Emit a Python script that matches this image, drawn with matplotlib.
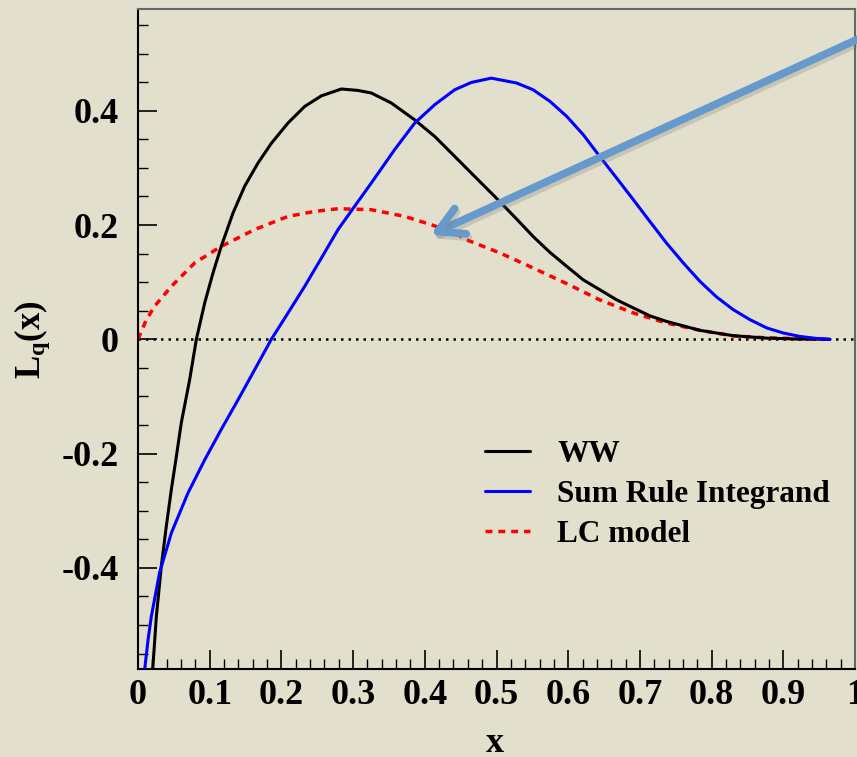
import matplotlib
matplotlib.use("Agg")
import matplotlib.pyplot as plt
import matplotlib.patheffects as pe
from matplotlib.patches import FancyArrowPatch
from matplotlib.ticker import MultipleLocator, FixedLocator

# ---- data ----
ww_x = [0.0205, 0.0256, 0.0325, 0.0395, 0.0465, 0.0535, 0.0604, 0.072, 0.0814, 0.093,
        0.1046, 0.1162, 0.1325, 0.1488, 0.1674, 0.186, 0.2092, 0.2325, 0.2557, 0.2836,
        0.3068, 0.3254, 0.3533, 0.3859, 0.4138, 0.4417, 0.4695, 0.4998, 0.528, 0.551,
        0.5746, 0.598, 0.621, 0.644, 0.6676, 0.691, 0.714, 0.737, 0.784, 0.830,
        0.877, 0.92, 0.965]
ww_y = [-0.578, -0.485, -0.397, -0.327, -0.263, -0.205, -0.146, -0.071, 0.0, 0.0635,
        0.116, 0.163, 0.221, 0.268, 0.3085, 0.343, 0.3785, 0.4075, 0.426, 0.438,
        0.4355, 0.431, 0.4135, 0.384, 0.355, 0.320, 0.285, 0.247, 0.2105, 0.180,
        0.152, 0.1276, 0.104, 0.0868, 0.069, 0.0548, 0.041, 0.0313, 0.0156, 0.0063,
        0.002, 0.0005, 0.0]

sr_x = [0.0093, 0.014, 0.0186, 0.030, 0.0465, 0.0697, 0.093, 0.116, 0.1395, 0.1628,
        0.186, 0.2092, 0.2325, 0.2557, 0.279, 0.302, 0.3254, 0.358, 0.386, 0.4138,
        0.4417, 0.465, 0.4928, 0.528, 0.551, 0.5746, 0.598, 0.621, 0.644, 0.6676,
        0.691, 0.714, 0.737, 0.7606, 0.784, 0.807, 0.830, 0.8536, 0.877, 0.900,
        0.923, 0.946, 0.965]
sr_y = [-0.578, -0.526, -0.485, -0.409, -0.339, -0.269, -0.211, -0.158, -0.106, -0.053,
        0.0, 0.046, 0.0926, 0.142, 0.192, 0.2325, 0.2735, 0.332, 0.3785, 0.4105,
        0.4367, 0.4495, 0.457, 0.4485, 0.4367, 0.4163, 0.390, 0.358, 0.320, 0.282,
        0.244, 0.206, 0.1685, 0.1335, 0.101, 0.074, 0.052, 0.0343, 0.0198, 0.011,
        0.005, 0.0015, 0.0]

lc_x = [0.0, 0.0116, 0.023, 0.0465, 0.079, 0.116, 0.1627, 0.209, 0.2464, 0.279,
        0.3254, 0.372, 0.409, 0.4417, 0.4584, 0.505, 0.551, 0.598, 0.644, 0.691,
        0.737, 0.784, 0.830, 0.877, 0.96]
lc_y = [0.0, 0.034, 0.0576, 0.0926, 0.1335, 0.1626, 0.192, 0.215, 0.2238, 0.2285,
        0.2268, 0.215, 0.2005, 0.186, 0.174, 0.151, 0.1248, 0.0973, 0.069, 0.046,
        0.0285, 0.0156, 0.006, 0.0025, 0.0]

labels = ["WW", "Sum Rule Integrand", "LC model"]
xticks = [0, 0.1, 0.2, 0.3, 0.4, 0.5, 0.6, 0.7, 0.8, 0.9, 1]
xticklabels = ["0", "0.1", "0.2", "0.3", "0.4", "0.5", "0.6", "0.7", "0.8", "0.9", "1"]
yticks = [-0.4, -0.2, 0, 0.2, 0.4]
yticklabels = ["-0.4", "-0.2", "0", "0.2", "0.4"]

# ---- style ----
plt.rcParams['font.family'] = ['Liberation Serif', 'DejaVu Serif']
plt.rcParams['font.weight'] = 'bold'
plt.rcParams['mathtext.fontset'] = 'custom'
plt.rcParams['mathtext.rm'] = 'Liberation Serif:bold'
plt.rcParams['mathtext.bf'] = 'Liberation Serif:bold'
plt.rcParams['mathtext.it'] = 'Liberation Serif:bold'

bg = '#e2dfcd'
fig = plt.figure(figsize=(8.57, 7.57), dpi=100, facecolor=bg)
ax = fig.add_axes([138/857, 88/757, 717/857, 660/757])
ax.set_facecolor(bg)

ax.axhline(0, color='black', lw=1.8, ls=(0, (1, 2)), zorder=1)
kw = dict(solid_joinstyle='round', solid_capstyle='round')
ax.plot(ww_x, ww_y, color='black', lw=2.2, label=labels[0], zorder=3, **kw)
ax.plot(sr_x, sr_y, color='#0000ff', lw=2.2, label=labels[1], zorder=3, **kw)
ax.plot(lc_x, lc_y, color='#ff0000', lw=2.5, ls=(0, (2.0, 1.7)), label=labels[2], zorder=2)

ax.set_xlim(0, 1)
ax.set_ylim(-0.577, 0.578)

ax.xaxis.set_major_locator(FixedLocator(xticks))
ax.set_xticklabels(xticklabels)
ax.xaxis.set_minor_locator(MultipleLocator(0.02))
ax.yaxis.set_major_locator(FixedLocator(yticks))
ax.set_yticklabels(yticklabels)
ax.yaxis.set_minor_locator(MultipleLocator(0.05))

ax.tick_params(which='both', direction='in', top=False, right=False, colors='black',
               labelsize=26)
ax.tick_params(which='major', length=14, width=1.2)
ax.tick_params(which='minor', length=7, width=1.0)
ax.tick_params(axis='y', pad=14)
ax.tick_params(axis='x', pad=7)
for lab in ax.get_xticklabels() + ax.get_yticklabels():
    lab.set_fontweight('bold')

for s in ['left', 'bottom']:
    ax.spines[s].set_color('black')
    ax.spines[s].set_linewidth(1.5)
for s in ['top', 'right']:
    ax.spines[s].set_color('#666666')
    ax.spines[s].set_linewidth(1.5)

fig.text(495/857, 1 - 744/757, 'x', ha='center', va='center', fontsize=26, fontweight='bold')
fig.text(32/857, 1 - 340/757, r'$\mathbf{L_q(x)}$', ha='center', va='center',
         rotation=90, fontsize=25)

leg = ax.legend(loc='upper left', bbox_to_anchor=(469.5/857, 1 - 424/757),
                bbox_transform=fig.transFigure, frameon=False,
                prop={'family': 'Liberation Serif', 'weight': 'bold', 'size': 22.5},
                handlelength=1.45, handletextpad=0.85, labelspacing=0.35, borderpad=0)

# arrow
fig.patches.append(FancyArrowPatch(
    posA=(880, 757 - 29), posB=(428, 757 - 236), transform=None,
    arrowstyle='->,head_length=0.9,head_width=0.5', mutation_scale=20,
    color='#6699cc', lw=5.5, capstyle='round', joinstyle='round',
    path_effects=[pe.SimpleLineShadow(offset=(1.5, -2.5), shadow_color='#777766', alpha=0.25),
                  pe.Normal()]))

fig.savefig('out.png', dpi=100, facecolor=bg)
